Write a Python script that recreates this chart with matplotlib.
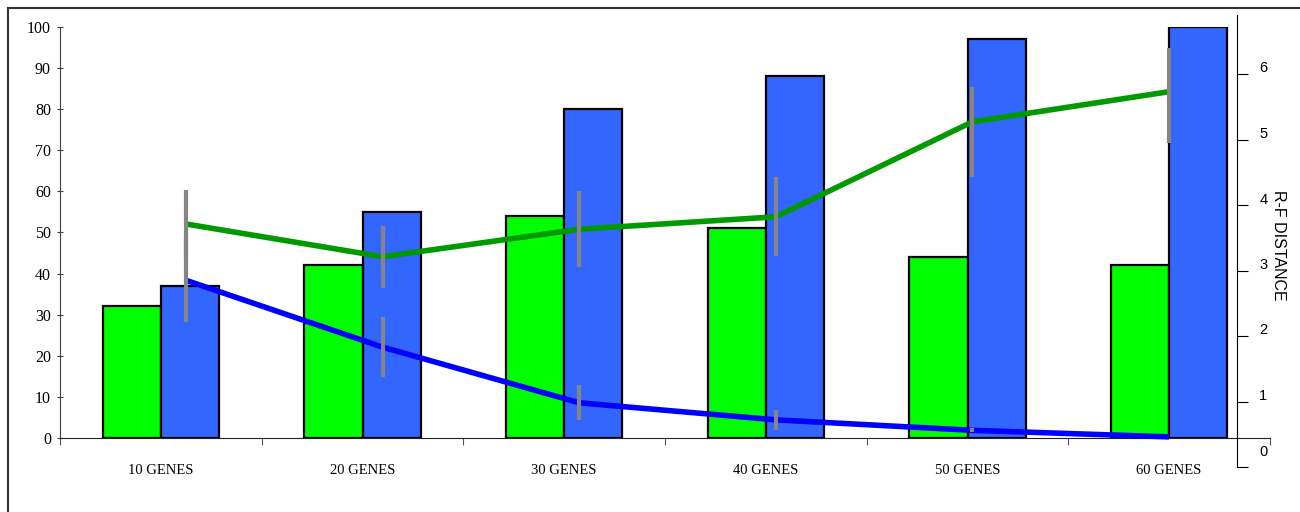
import matplotlib
matplotlib.use("Agg")
import matplotlib.pyplot as plt
import matplotlib.transforms as mtrans
from matplotlib.lines import Line2D
import numpy as np

categories = ["10 GENES", "20 GENES", "30 GENES", "40 GENES", "50 GENES", "60 GENES"]

# bars, left axis
green_bars = [32, 42, 54, 51, 44, 42]
blue_bars = [37, 55, 80, 88, 97, 100]

# R-F distance lines, right axis
green_line = [3.71, 3.21, 3.63, 3.82, 5.27, 5.73]
green_err_lo = [0.52, 0.47, 0.58, 0.60, 0.85, 0.79]
green_err_hi = [0.52, 0.47, 0.58, 0.60, 0.53, 0.67]
blue_line = [2.85, 1.83, 0.98, 0.72, 0.56, 0.46]
blue_err = [0.64, 0.46, 0.27, 0.15, 0.03, 0.0]

W, H = 1300, 512
fig = plt.figure(figsize=(13, 5.12), dpi=100)

serif = "Liberation Serif"
sans = "Liberation Sans"

n = len(categories)
x = np.arange(n) + 0.5
bw = 0.288

ax = fig.add_axes([60 / W, 1 - 438 / H, 1210 / W, 411 / H])
ax.bar(x - bw / 2, green_bars, bw, color="#00ff00", edgecolor="black", linewidth=1.6)
ax.bar(x + bw / 2, blue_bars, bw, color="#3366ff", edgecolor="black", linewidth=1.6)
ax.set_xlim(0, n)
ax.set_ylim(0, 100)
ax.set_yticks(np.arange(0, 101, 10))
ax.set_yticklabels([str(v) for v in range(0, 101, 10)], fontfamily=serif, fontsize=11.5)
ax.set_xticks(np.arange(0, n + 1))
ax.set_xticklabels([])
ax.set_xticks(x, minor=True)
ax.set_xticklabels(categories, minor=True, fontfamily=serif, fontsize=10.5)
ax.tick_params(axis="x", which="minor", length=0, pad=19)
ax.tick_params(axis="x", which="major", length=5, color="#555555")
ax.tick_params(axis="y", length=5, color="#404040", direction="inout", pad=4)
for s in ["top", "right"]:
    ax.spines[s].set_visible(False)
ax.spines["left"].set_color("#404040")
ax.spines["bottom"].set_color("#202020")
ax.patch.set_alpha(0)

# right axis for the distance lines (its category slots are a little narrower)
ax2 = fig.add_axes([87.7 / W, 1 - 467 / H, 1179.6 / W, 452 / H])
ax2.set_xlim(0, n)
ax2.set_ylim(0, 452 / 65.5)
ax2.plot(x, green_line, color="#009900", linewidth=4, solid_capstyle="butt", zorder=2)
ax2.plot(x, blue_line, color="#0000ff", linewidth=4, solid_capstyle="butt", zorder=2)
ax2.errorbar(x, green_line, yerr=[green_err_lo, green_err_hi], fmt="none",
             ecolor="#858585", elinewidth=3, capsize=0, zorder=3)
ax2.errorbar(x, blue_line, yerr=blue_err, fmt="none",
             ecolor="#858585", elinewidth=3, capsize=0, zorder=3)
for s in ["top", "left", "bottom"]:
    ax2.spines[s].set_visible(False)
ax2.spines["right"].set_position(("axes", (1237 - 87.7) / 1179.6))
ax2.spines["right"].set_color("black")
ax2.set_xticks([])
ax2.yaxis.tick_right()
ax2.set_yticks(range(0, 7))
ax2.set_yticklabels([str(v) for v in range(0, 7)], fontfamily=sans, fontsize=10.5)
ax2.tick_params(axis="y", length=8, direction="out", pad=8)
for i, lab in enumerate(ax2.get_yticklabels()):
    dy = 17 if i == 0 else 7
    lab.set_transform(lab.get_transform()
                      + mtrans.ScaledTranslation(0, dy / 100, fig.dpi_scale_trans))
ax2.patch.set_alpha(0)

fig.text(1278 / W, 1 - 245 / H, "R-F DISTANCE", rotation=270, ha="center", va="center",
         fontfamily=sans, fontsize=11.5)

# outer chart frame (only top and left edges show)
fig.add_artist(Line2D([8 / W, 8 / W], [0, 1 - 8 / H], transform=fig.transFigure,
                      color="#333333", linewidth=1.5))
fig.add_artist(Line2D([8 / W, 1], [1 - 8 / H, 1 - 8 / H], transform=fig.transFigure,
                      color="#333333", linewidth=1.5))

fig.savefig("out.png", dpi=100)
